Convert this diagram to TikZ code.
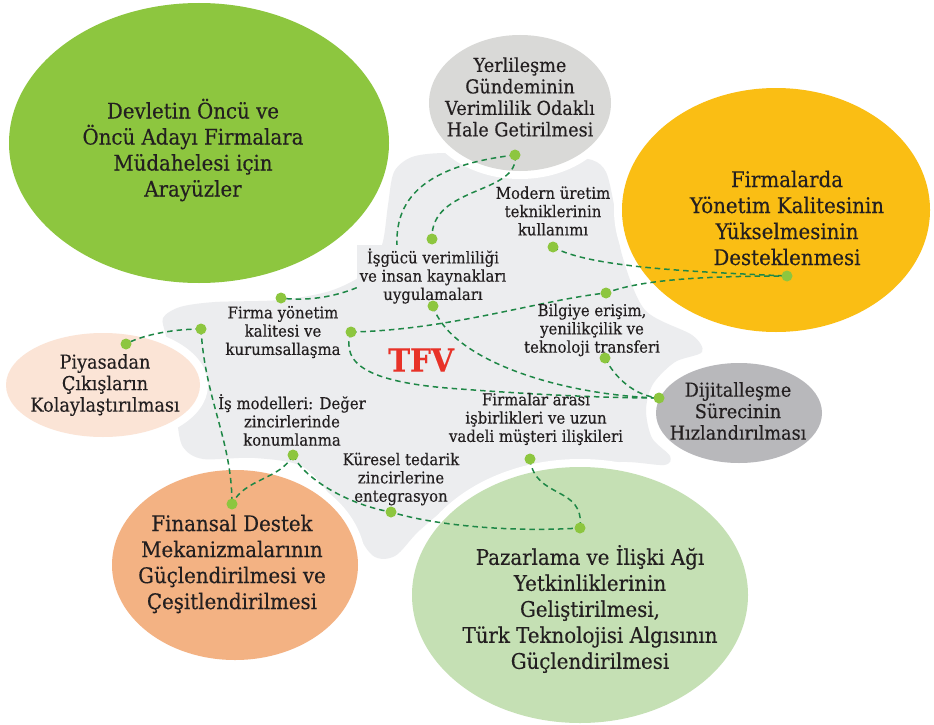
\documentclass[tikz,border=0pt]{standalone}
\usepackage{fontspec}
\setmainfont{DejaVu Serif}[FakeStretch=0.92,FakeBold=0.3]
\usepackage{tikz}
\usetikzlibrary{shapes.geometric}
\definecolor{LeafGreen}{RGB}{141,198,63}
\definecolor{MistGray}{RGB}{217,217,215}
\definecolor{Amber}{RGB}{250,190,20}
\definecolor{Peach}{RGB}{251,228,214}
\definecolor{Steel}{RGB}{184,184,187}
\definecolor{Apricot}{RGB}{243,178,131}
\definecolor{Sage}{RGB}{197,224,180}
\definecolor{BlobBg}{RGB}{236,237,239}
\definecolor{Ink}{RGB}{35,31,32}
\definecolor{DashGreen}{RGB}{30,135,70}
\definecolor{DotGreen}{RGB}{141,198,63}
\definecolor{TfvRed}{RGB}{232,50,40}

\tikzset{
  bubble/.style={ellipse,inner sep=0pt,fill=#1,
                 preaction={draw=white,line width=16pt}},
  bigtext/.style={text=Ink,align=center,font=\fontsize{21.5}{26}\selectfont},
  midtext/.style={text=Ink,align=center,font=\fontsize{19.2}{21.5}\selectfont},
  topic/.style={text=Ink,align=center,inner sep=2pt,
                font=\fontsize{16.2}{18.3}\selectfont},
  link/.style={DashGreen,dash pattern=on 5.5pt off 4pt,line width=1.5pt},
}

\begin{document}
\begin{tikzpicture}[x=1pt,y=-1pt]
  \useasboundingbox (0,0) rectangle (934,725);
  \fill[white] (0,0) rectangle (934,725);

  % grey cloud behind the topics
  \fill[BlobBg] plot[smooth cycle] coordinates {
    (163,318) (180,307) (215,302) (280,300) (330,291) (365,273) (382,245)
    (388,205) (394,172) (412,157) (445,153) (500,156) (560,157) (592,160)
    (606,172) (614,205) (622,255) (645,310) (692,335) (702,352) (675,362)
    (653,384) (646,410) (652,438) (670,456) (664,465) (620,462) (540,470)
    (460,500) (420,530) (395,556) (372,555) (345,515) (305,468) (255,458)
    (203,459) (183,447) (177,420) (172,370) (166,336)};

  % bubbles
  \node[bubble=LeafGreen,minimum width=380pt,minimum height=280pt] (devlet) at (199,143) {};
  \node[bubble=MistGray,minimum width=182pt,minimum height=136pt] (yerli) at (520,103) {};
  \node[bubble=Amber,minimum width=308pt,minimum height=244pt] (yonetim) at (776,210) {};
  \node[bubble=Peach,minimum width=194pt,minimum height=104pt] (piyasa) at (103,385) {};
  \node[bubble=Steel,minimum width=166pt,minimum height=100pt] (dijital) at (739,413) {};
  \node[bubble=Apricot,minimum width=246pt,minimum height=190pt] (finans) at (235,565) {};
  \node[bubble=Sage,minimum width=336pt,minimum height=256pt] (pazar) at (580,595) {};

  \node[bigtext] (devletT) at (193,150) {Devletin Öncü ve\\Öncü Adayı Firmalara\\Müdahelesi için\\Arayüzler};
  \node[midtext] (yerliT) at (520,97) {Yerlileşme\\Gündeminin\\Verimlilik Odaklı\\Hale Getirilmesi};
  \node[bigtext] (yonetimT) at (787,218) {Firmalarda\\Yönetim Kalitesinin\\Yükselmesinin\\Desteklenmesi};
  \node[midtext] (piyasaT) at (105,385) {Piyasadan\\Çıkışların\\Kolaylaştırılması};
  \node[midtext] (dijitalT) at (738,411) {Dijitalleşme\\Sürecinin\\Hızlandırılması};
  \node[bigtext] (finansT) at (232,564) {Finansal Destek\\Mekanizmalarının\\Güçlendirilmesi ve\\Çeşitlendirilmesi};
  \node[bigtext] (pazarT) at (590,609) {Pazarlama ve İlişki Ağı\\Yetkinliklerinin\\Geliştirilmesi,\\Türk Teknolojisi Algısının\\Güçlendirilmesi};

  % dot positions
  \coordinate (yer) at (515,155);
  \coordinate (isgtop) at (432,239);
  \coordinate (firmatop) at (281,298);
  \coordinate (mod) at (553,247);
  \coordinate (ykal) at (787,276);
  \coordinate (isgbot) at (433,306);
  \coordinate (firmaright) at (351,332);
  \coordinate (bilgtop) at (606,293);
  \coordinate (firmaleft) at (201,329);
  \coordinate (piy) at (126,344);
  \coordinate (bilgbot) at (605,358);
  \coordinate (dij) at (659,398);
  \coordinate (ismod) at (293,455);
  \coordinate (fin) at (232,504);
  \coordinate (kur) at (391,512);
  \coordinate (isbir) at (530,459);
  \coordinate (paz) at (580,528);

  % dashed connectors
  \draw[link] (yer) .. controls (430,165) and (395,195) .. (397,245)
              .. controls (398,280) and (330,305) .. (firmatop);
  \draw[link] (yer) .. controls (520,195) and (430,185) .. (isgtop);
  \draw[link] (mod) .. controls (590,268) and (700,272) .. (ykal);
  \draw[link] (firmaright) .. controls (450,330) and (540,300) .. (bilgtop)
              .. controls (640,280) and (700,276) .. (ykal);
  \draw[link] (firmaright) .. controls (340,365) and (370,383) .. (460,389)
              .. controls (540,395) and (610,398) .. (dij);
  \draw[link] (isgbot) .. controls (450,360) and (560,395) .. (dij);
  \draw[link] (bilgbot) .. controls (615,378) and (635,396) .. (dij);
  \draw[link] (firmaleft) .. controls (170,329) and (140,336) .. (piy);
  \draw[link] (firmaleft) .. controls (205,400) and (232,440) .. (fin);
  \draw[link] (ismod) .. controls (280,480) and (245,478) .. (fin);
  \draw[link] (ismod) .. controls (305,480) and (350,505) .. (kur)
              .. controls (440,527) and (520,532) .. (paz);
  \draw[link] (isbir) .. controls (535,500) and (585,485) .. (paz);

  % topics
  \node[topic] (modern) at (553,211) {Modern üretim\\tekniklerinin\\kullanımı};
  \node[topic,fill=BlobBg,inner sep=3pt] (isgucu) at (433,276) {İşgücü verimliliği\\ve insan kaynakları\\uygulamaları};
  \node[topic] (firma) at (283,332) {Firma yönetim\\kalitesi ve\\kurumsallaşma};
  \node[topic] (bilgi) at (592,330) {Bilgiye erişim,\\yenilikçilik ve\\teknoloji transferi};
  \node[topic] (isModel) at (292,420) {İş modelleri: Değer\\zincirlerinde\\konumlanma};
  \node[topic] (kuresel) at (401,479) {Küresel tedarik\\zincirlerine\\entegrasyon};
  \node[topic] (isbirlik) at (536,419) {Firmalar arası\\işbirlikleri ve uzun\\vadeli müşteri ilişkileri};

  \node[text=TfvRed,font=\bfseries\fontsize{32}{32}\selectfont] (tfv) at (421,360) {TFV};

  \foreach \p in {yer,isgtop,firmatop,mod,ykal,isgbot,firmaright,bilgtop,
                  firmaleft,piy,bilgbot,dij,ismod,fin,kur,isbir,paz}
    \fill[DotGreen] (\p) circle[radius=5.5pt];
\end{tikzpicture}
\end{document}
